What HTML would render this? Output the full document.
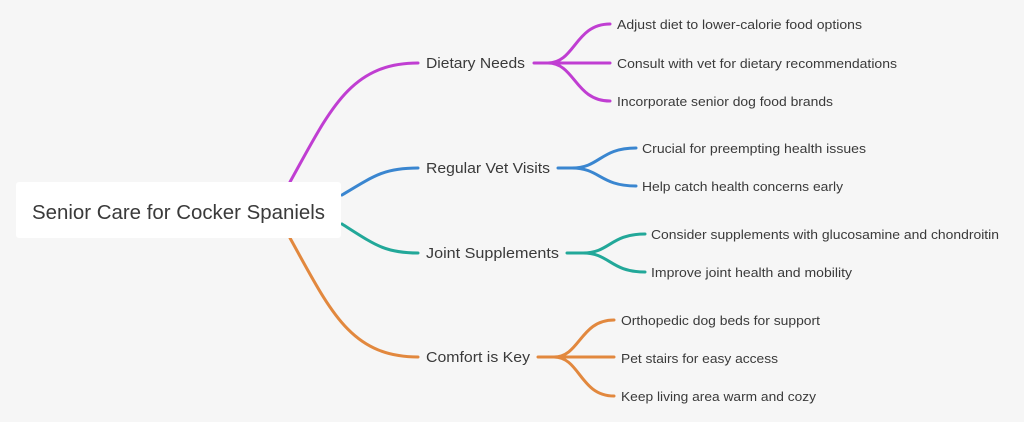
<!DOCTYPE html>
<html><head><meta charset="utf-8"><style>
html,body{margin:0;padding:0;background:#f6f6f6}
svg{display:block}
text{font-family:"Liberation Sans",sans-serif;fill:#3a3a3a}
</style></head><body>
<svg width="1024" height="422" viewBox="0 0 1024 422" xmlns="http://www.w3.org/2000/svg">
<rect width="1024" height="422" fill="#f6f6f6"/>
<g fill="none" stroke-width="3" stroke-linecap="round">
<path d="M290 182 C330 110 350 63 418 63" stroke="#c03ed2"/>
<path d="M342 195 C375 175 385 168 418 168" stroke="#3a86d0"/>
<path d="M342 224 C375 245 385 253 418 253" stroke="#22a899"/>
<path d="M290 238 C330 310 350 357 418 357" stroke="#e2883e"/>
<g stroke="#c03ed2"><path d="M534 63 H610"/><path d="M548 63 C575 63 575 24 610 24"/><path d="M548 63 C575 63 575 101 610 101"/></g>
<g stroke="#3a86d0"><path d="M558 168 H574"/><path d="M572 168 C600 168 600 148 636 148"/><path d="M572 168 C600 168 600 186 636 186"/></g>
<g stroke="#22a899"><path d="M567 253 H585"/><path d="M583 253 C610 253 610 234 645 234"/><path d="M583 253 C610 253 610 272 645 272"/></g>
<g stroke="#e2883e"><path d="M538 357 H614"/><path d="M554 357 C580 357 580 320 614 320"/><path d="M554 357 C580 357 580 396 614 396"/></g>
</g>
<rect x="16" y="182" width="325" height="56" rx="3" fill="#fff"/>
<text x="32" y="219" font-size="20" textLength="293" lengthAdjust="spacingAndGlyphs">Senior Care for Cocker Spaniels</text>
<g font-size="15">
<text x="426" y="68" textLength="99" lengthAdjust="spacingAndGlyphs">Dietary Needs</text>
<text x="426" y="173" textLength="124" lengthAdjust="spacingAndGlyphs">Regular Vet Visits</text>
<text x="426" y="258" textLength="133" lengthAdjust="spacingAndGlyphs">Joint Supplements</text>
<text x="426" y="362" textLength="104" lengthAdjust="spacingAndGlyphs">Comfort is Key</text>
</g>
<g font-size="13" lengthAdjust="spacingAndGlyphs">
<text x="617" y="29" textLength="245" lengthAdjust="spacingAndGlyphs">Adjust diet to lower-calorie food options</text>
<text x="617" y="68" textLength="280" lengthAdjust="spacingAndGlyphs">Consult with vet for dietary recommendations</text>
<text x="617" y="106" textLength="216" lengthAdjust="spacingAndGlyphs">Incorporate senior dog food brands</text>
<text x="642" y="153" textLength="224" lengthAdjust="spacingAndGlyphs">Crucial for preempting health issues</text>
<text x="642" y="191" textLength="201" lengthAdjust="spacingAndGlyphs">Help catch health concerns early</text>
<text x="651" y="239" textLength="348" lengthAdjust="spacingAndGlyphs">Consider supplements with glucosamine and chondroitin</text>
<text x="651" y="277" textLength="201" lengthAdjust="spacingAndGlyphs">Improve joint health and mobility</text>
<text x="621" y="325" textLength="199" lengthAdjust="spacingAndGlyphs">Orthopedic dog beds for support</text>
<text x="621" y="363" textLength="157" lengthAdjust="spacingAndGlyphs">Pet stairs for easy access</text>
<text x="621" y="401" textLength="195" lengthAdjust="spacingAndGlyphs">Keep living area warm and cozy</text>
</g>
</svg>
</body></html>
